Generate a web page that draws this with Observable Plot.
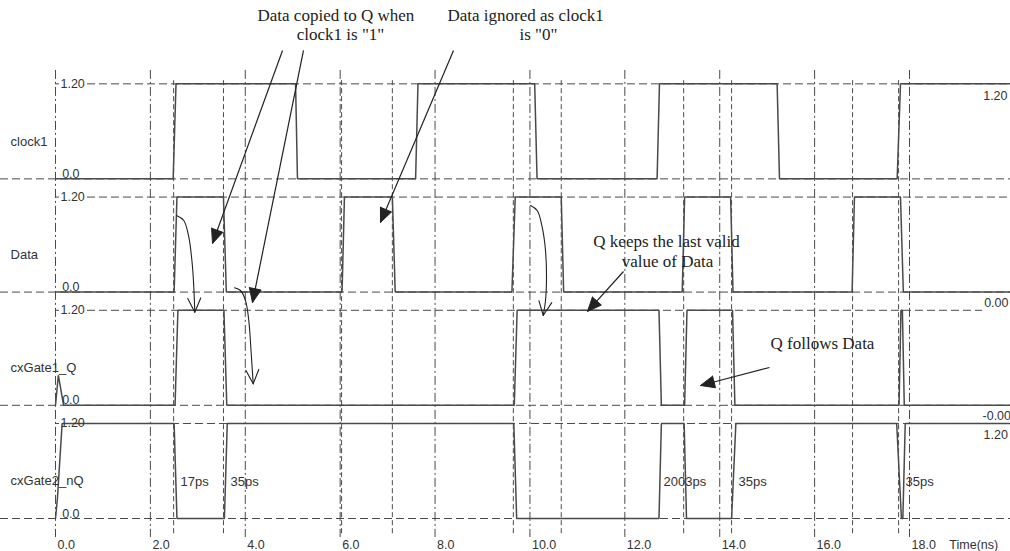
<!DOCTYPE html>
<html><head><meta charset="utf-8">
<script src="https://cdn.jsdelivr.net/npm/d3@7"></script>
<script src="https://cdn.jsdelivr.net/npm/@observablehq/plot@0.6"></script>
<style>html,body{margin:0;padding:0;background:#fff;overflow:hidden}#chart svg{display:block}</style>
</head><body><div id="chart"></div>
<script>
// ---------------- data ----------------
const signals = ["clock1", "Data", "cxGate1_Q", "cxGate2_nQ"];

const clock1T = [0, 2.48, 2.54, 5.06, 5.10, 7.59, 7.64, 10.10, 10.15, 12.68, 12.73, 15.21, 15.26, 17.74, 17.81, 20.3];
const clock1V = [0, 0, 1.2, 1.2, 0, 0, 1.2, 1.2, 0, 0, 1.2, 1.2, 0, 0, 1.2, 1.2];

const dataT = [0, 2.50, 2.56, 3.54, 3.60, 6.04, 6.09, 7.10, 7.16, 9.62, 9.69, 10.66, 10.71, 13.21, 13.26, 14.23, 14.28, 16.79, 16.84, 17.81, 17.87, 20.3];
const dataV = [0, 0, 1.2, 1.2, 0, 0, 1.2, 1.2, 0, 0, 1.2, 1.2, 0, 0, 1.2, 1.2, 0, 0, 1.2, 1.2, 0, 0];

const qT = [0, 0.06, 0.17, 2.52, 2.58, 3.55, 3.61, 9.67, 9.73, 12.72, 12.77, 13.26, 13.31, 14.27, 14.32, 17.78, 17.82, 17.85, 17.89, 20.3];
const qV = [0, 0.38, 0, 0, 1.2, 1.2, 0, 0, 1.2, 1.2, 0, 0, 1.2, 1.2, 0, 0, 1.2, 1.2, 0, 0];

const nqT = [0, 0.04, 0.14, 2.50, 2.56, 3.56, 3.62, 9.66, 9.72, 12.72, 12.77, 13.25, 13.30, 14.25, 14.34, 17.73, 17.83, 17.86, 17.91, 20.3];
const nqV = [0, 0.25, 1.2, 1.2, 0, 0, 1.2, 1.2, 0, 0, 1.2, 1.2, 0, 0, 1.2, 1.2, 0, 0, 1.2, 1.2];

const gridTicks = [0, 2, 4, 6, 8, 10, 12, 14, 16, 18];
const cursorT = [2.49, 3.54, 6.03, 7.10, 9.65, 10.66, 13.24, 14.25, 16.80, 17.77];

const highLabel = "1.20";
const lowLabel = "0.0";
const finalValues = ["1.20", "0.00", "-0.00", "1.20"];

const delayLabels = ["17ps", "35ps", "2003ps", "35ps", "35ps"];
const delayT = [2.635, 3.689, 12.815, 14.396, 17.916];

const noteLines = ["Data copied to Q when", "clock1 is \"1\"", "Data ignored as clock1", "is \"0\"",
                   "Q keeps the last valid", "value of Data", "Q follows Data"];

// ---------------- layout ----------------
const xOpts = {domain: [0, 18], range: [55, 909]};
const yOpts = {domain: [0, 1.2], range: [518, 518 - 1.2 * 79.17]};
const laneOffset = [4.29, 2.86, 1.43, 0];
const sx = Plot.scale({x: xOpts});
const sy = Plot.scale({y: yOpts});

const traces = [[clock1T, clock1V], [dataT, dataV], [qT, qV], [nqT, nqV]];
const rows = traces.flatMap(([T, V], i) => T.map((t, j) => ({name: signals[i], t, y: V[j] + laneOffset[i]})));

const highRules = laneOffset.map((o, i) => ({y: o + 1.2, x1: 0.674, x2: i < 2 ? 20.3 : 19.54}));
const highTicks = laneOffset.map(o => ({y: o + 1.2, x1: 0, x2: 0.084}));

const notes = [
  {text: noteLines[0], t: 4.258, v: 6.354, a: "start"},
  {text: noteLines[1], t: 6.007, v: 6.107, a: "middle"},
  {text: noteLines[2], t: 8.262, v: 6.354, a: "start"},
  {text: noteLines[3], t: 10.18, v: 6.107, a: "middle"},
  {text: noteLines[4], t: 12.878, v: 3.494, a: "middle"},
  {text: noteLines[5], t: 12.9, v: 3.241, a: "middle"},
  {text: noteLines[6], t: 16.166, v: 2.205, a: "middle"}
];

const arrows = [
  {t1: 4.785, v1: 5.912, t2: 3.309, v2: 3.474},
  {t1: 5.227, v1: 5.912, t2: 4.152, v2: 2.728},
  {t1: 8.389, v1: 5.912, t2: 6.85, v2: 3.739},
  {t1: 11.972, v1: 3.12, t2: 11.213, v2: 2.615},
  {t1: 15.05, v1: 1.907, t2: 13.595, v2: 1.68}
];

const curves = [
  [[2.550, 3.827], [2.704, 3.764], [2.810, 3.553], [2.881, 3.221], [2.915, 2.922], [2.936, 2.606]],
  [[3.773, 2.914], [3.899, 2.880], [4.005, 2.753], [4.074, 2.501], [4.125, 2.084], [4.167, 1.701]],
  [[10.012, 3.953], [10.153, 3.890], [10.258, 3.679], [10.328, 3.385], [10.349, 3.048], [10.328, 2.754], [10.280, 2.564]]
];
const curveRows = curves.flatMap((c, k) => c.map(([t, v]) => ({id: k, t, v})));

function head(t1, v1, t2, v2, len, half, id, closed) {
  const x1 = sx.apply(t1), y1 = sy.apply(v1), x2 = sx.apply(t2), y2 = sy.apply(v2);
  const L = Math.hypot(x2 - x1, y2 - y1), ux = (x2 - x1) / L, uy = (y2 - y1) / L;
  const bx = x2 - ux * len, by = y2 - uy * len, px = -uy, py = ux;
  const pts = [[bx + px * half, by + py * half], [x2, y2], [bx - px * half, by - py * half]];
  if (closed) pts.push(pts[0]);
  return pts.map(([x, y]) => ({id, t: sx.invert(x), v: sy.invert(y)}));
}
const filledHeads = arrows.flatMap((a, k) => head(a.t1, a.v1, a.t2, a.v2, 14, 6, k, true));
const openHeads = curves.flatMap((c, k) => {
  const p = c[c.length - 2], q = c[c.length - 1];
  return head(p[0], p[1], q[0], q[1], 14, 6.5, k, false);
});

const sans = "Liberation Sans, Arial, sans-serif";
const serif = "Liberation Serif, Times New Roman, serif";
const ink = "#4a4a4a";
const gridInk = "#4a4a4a";

const chart = Plot.plot({
  width: 1010, height: 551,
  marginTop: 0, marginLeft: 0, marginRight: 0, marginBottom: 11,
  style: {background: "white", overflow: "hidden"},
  x: xOpts,
  y: {...yOpts, axis: null},
  marks: [
    // horizontal dashed level lines
    Plot.ruleY(laneOffset, {stroke: gridInk, strokeWidth: 1, strokeDasharray: "8,4"}),
    Plot.ruleY(highRules, {y: "y", x1: "x1", x2: "x2", stroke: gridInk, strokeWidth: 1, strokeDasharray: "8,4"}),
    Plot.ruleY(highTicks, {y: "y", x1: "x1", x2: "x2", stroke: gridInk, strokeWidth: 1}),
    // vertical grid (dash-dot) and cursor lines (dashed)
    Plot.ruleX(gridTicks, {y1: 5.66, y2: -0.24, stroke: gridInk, strokeWidth: 1, strokeDasharray: "9,3,2,3"}),
    Plot.ruleX(cursorT, {y1: 5.53, y2: -0.22, stroke: gridInk, strokeWidth: 1, strokeDasharray: "5,3"}),
    // waveforms
    Plot.line(rows, {x: "t", y: "y", z: "name", stroke: ink, strokeWidth: 1.5, strokeLinejoin: "miter"}),
    // lane labels
    Plot.text(signals, {x: -0.948, y: (d, i) => laneOffset[i] + 0.47, text: d => d, textAnchor: "start",
      fontFamily: sans, fontSize: 13, fill: "#333"}),
    Plot.text(laneOffset, {x: 0.105, y: d => d + 1.2, text: () => highLabel, textAnchor: "start",
      fontFamily: sans, fontSize: 12.5, fill: "#333"}),
    Plot.text(laneOffset, {x: 0.14, y: d => d, text: () => lowLabel, textAnchor: "start", lineAnchor: "bottom", dy: -1,
      fontFamily: sans, fontSize: 12.5, fill: "#333"}),
    // final values at the right
    Plot.text([0, 1], {x: [20.066, 20.087], y: [laneOffset[0] + 1.2 - 0.152, laneOffset[1] - 0.14],
      text: i => finalValues[i], textAnchor: "end", fontFamily: sans, fontSize: 12.5, fill: "#333"}),
    Plot.text([2, 3], {x: [19.539, 19.56], y: [laneOffset[2] - 0.14, laneOffset[3] + 1.2 - 0.15],
      text: i => finalValues[i], textAnchor: "start", fontFamily: sans, fontSize: 12.5, fill: "#333"}),
    // delay labels
    Plot.text(delayLabels, {x: (d, i) => delayT[i], y: laneOffset[3] + 0.467, text: d => d, textAnchor: "start",
      fontFamily: sans, fontSize: 13, fill: "#333"}),
    // time axis
    Plot.axisX(gridTicks, {anchor: "bottom", tickSize: 0, tickPadding: 0, tickFormat: d => d.toFixed(1),
      textAnchor: "start", dx: 2, fontSize: 12.5, fontFamily: sans, fill: "#333", label: null}),
    Plot.text(["Time(ns)"], {x: 18.84, y: -0.341, text: d => d, textAnchor: "start", fontFamily: sans, fontSize: 12.5, fill: "#333"}),
    // annotations
    Plot.text(notes.filter(n => n.a === "start"), {x: "t", y: "v", text: "text", textAnchor: "start",
      fontFamily: serif, fontSize: 17, fill: "#222"}),
    Plot.text(notes.filter(n => n.a === "middle"), {x: "t", y: "v", text: "text", textAnchor: "middle",
      fontFamily: serif, fontSize: 17, fill: "#222"}),
    Plot.link(arrows, {x1: "t1", y1: "v1", x2: "t2", y2: "v2", stroke: "#222", strokeWidth: 1.2}),
    Plot.line(filledHeads, {x: "t", y: "v", z: "id", fill: "#222", stroke: "#222", strokeWidth: 1}),
    Plot.line(curveRows, {x: "t", y: "v", z: "id", curve: "catmull-rom", stroke: "#222", strokeWidth: 1.1}),
    Plot.line(openHeads, {x: "t", y: "v", z: "id", stroke: "#222", strokeWidth: 1.1})
  ]
});
document.getElementById("chart").appendChild(chart);
</script>
</body></html>
